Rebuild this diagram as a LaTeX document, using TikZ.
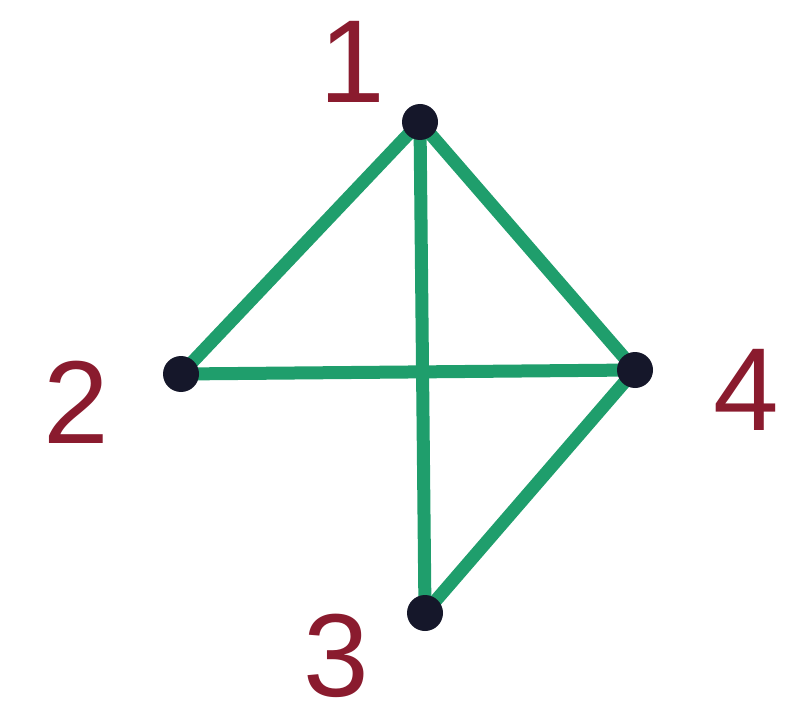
\documentclass[tikz,border=0pt]{standalone}
\usepackage{fontspec}
\setmainfont{Liberation Sans}
\definecolor{edgegreen}{HTML}{1F9E6C}
\definecolor{dotcol}{HTML}{15172A}
\definecolor{labred}{HTML}{8A1B2E}
\begin{document}
\begin{tikzpicture}[x=1pt,y=-1pt,
  vert/.style={circle,fill=dotcol,inner sep=0pt,minimum size=36pt},
  edge/.style={draw=edgegreen,line width=13pt,line cap=round},
  lab/.style={text=labred,font=\fontsize{118}{118}\selectfont,inner sep=0pt}]
\useasboundingbox (0,0) rectangle (806,722);
\coordinate (v1) at (420,122);
\coordinate (v2) at (181,374);
\coordinate (v3) at (425,613);
\coordinate (v4) at (635,370);
\draw[edge] (v1) -- (v2);
\draw[edge] (v1) -- (v3);
\draw[edge] (v1) -- (v4);
\draw[edge] (v2) -- (v4);
\draw[edge] (v4) -- (v3);
\node[vert] (n1) at (v1) {};
\node[vert] (n2) at (v2) {};
\node[vert] (n3) at (v3) {};
\node[vert] (n4) at (v4) {};
\node[lab] (l1) at (352,62) {1};
\node[lab] (l2) at (76,402) {2};
\node[lab] (l3) at (336,656) {3};
\node[lab] (l4) at (746,390) {4};
\end{tikzpicture}
\end{document}
